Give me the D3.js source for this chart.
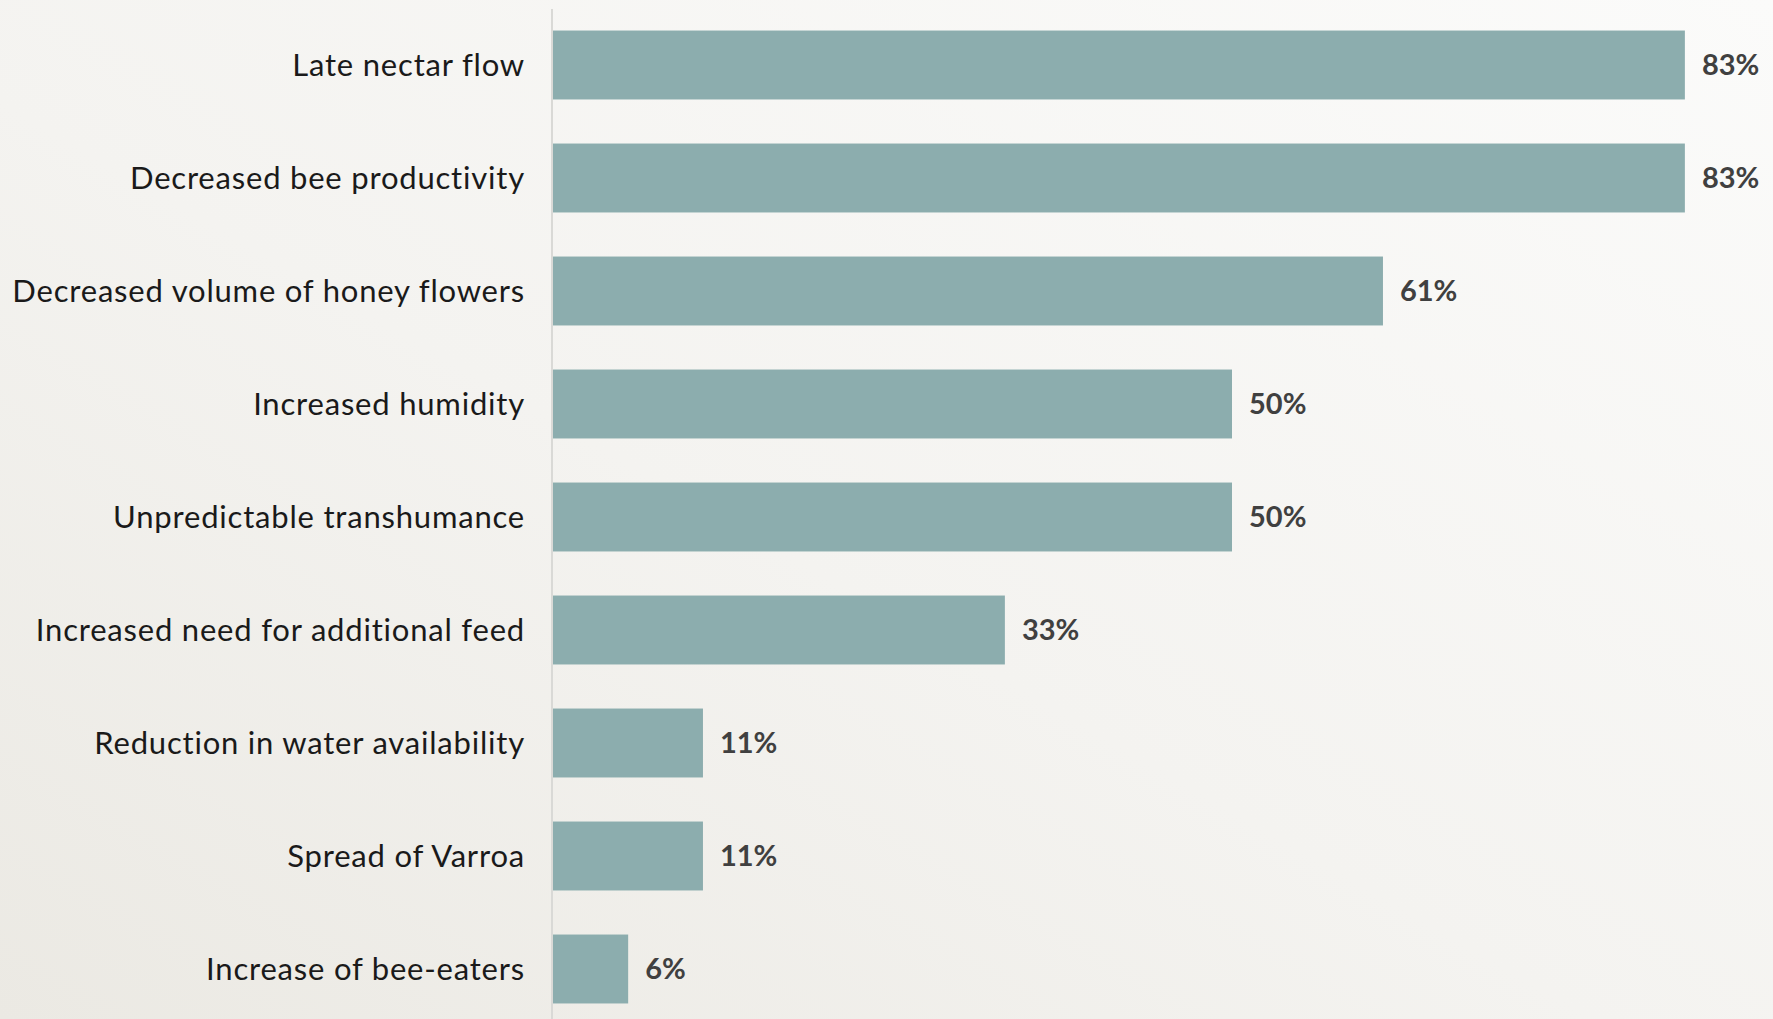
<!DOCTYPE html>
<html>
<head>
<meta charset="utf-8">
<script src="https://cdn.jsdelivr.net/npm/d3@7"></script>
<style>
  body { margin: 0; overflow: hidden; }
</style>
</head>
<body>
<div id="chart"></div>
<script>
// data
var categories = [
  "Late nectar flow",
  "Decreased bee productivity",
  "Decreased volume of honey flowers",
  "Increased humidity",
  "Unpredictable transhumance",
  "Increased need for additional feed",
  "Reduction in water availability",
  "Spread of Varroa",
  "Increase of bee-eaters"
];
var values = [83.3, 83.3, 61.1, 50, 50, 33.3, 11.1, 11.1, 5.6];
var valueLabels = ["83%", "83%", "61%", "50%", "50%", "33%", "11%", "11%", "6%"];

// layout
var W = 1773, H = 1019;
var margin = {top: 9, left: 552};

var svg = d3.select("#chart")
  .append("svg")
    .attr("width", W)
    .attr("height", H);

// background
var defs = svg.append("defs");
var grad = defs.append("linearGradient")
  .attr("id", "bg")
  .attr("x1", "0%").attr("y1", "100%")
  .attr("x2", "100%").attr("y2", "0%");
grad.append("stop").attr("offset", "0%").attr("stop-color", "#ebe9e3");
grad.append("stop").attr("offset", "45%").attr("stop-color", "#f4f3f0");
grad.append("stop").attr("offset", "100%").attr("stop-color", "#fbfbfa");
svg.append("rect")
  .attr("width", W).attr("height", H)
  .attr("fill", "url(#bg)");

// scales
var x = d3.scaleLinear()
  .domain([0, 100])
  .range([margin.left, margin.left + 1360]);

var y = d3.scaleBand()
  .domain(categories)
  .range([8.5, 1025.5])
  .paddingInner(0.39)
  .paddingOuter(0.195);

var data = categories.map(function(c, i) {
  return {name: c, value: values[i], label: valueLabels[i]};
});

// bars
svg.selectAll(".bar")
  .data(data)
  .enter().append("rect")
    .attr("class", "bar")
    .attr("x", x(0))
    .attr("y", function(d) { return y(d.name); })
    .attr("width", function(d) { return x(d.value) - x(0); })
    .attr("height", y.bandwidth())
    .attr("fill", "#8cadae");

// axis line
svg.append("line")
  .attr("x1", x(0)).attr("x2", x(0))
  .attr("y1", margin.top).attr("y2", H)
  .attr("stroke", "#d9d9d6")
  .attr("stroke-width", 2);

// category labels
svg.selectAll(".cat")
  .data(data)
  .enter().append("text")
    .attr("class", "cat")
    .attr("x", x(0) - 27)
    .attr("y", function(d) { return y(d.name) + y.bandwidth() / 2; })
    .attr("dy", "0.35em")
    .attr("text-anchor", "end")
    .attr("font-family", "Lato, sans-serif")
    .attr("font-size", 31)
    .attr("letter-spacing", 0.8)
    .attr("fill", "#1a1a1a")
    .text(function(d) { return d.name; });

// value labels
svg.selectAll(".val")
  .data(data)
  .enter().append("text")
    .attr("class", "val")
    .attr("x", function(d) { return x(d.value) + 17; })
    .attr("y", function(d) { return y(d.name) + y.bandwidth() / 2; })
    .attr("dy", "0.36em")
    .attr("font-family", "Lato, sans-serif")
    .attr("font-weight", "bold")
    .attr("font-size", 29)
    .attr("fill", "#404040")
    .text(function(d) { return d.label; });
</script>
</body>
</html>
